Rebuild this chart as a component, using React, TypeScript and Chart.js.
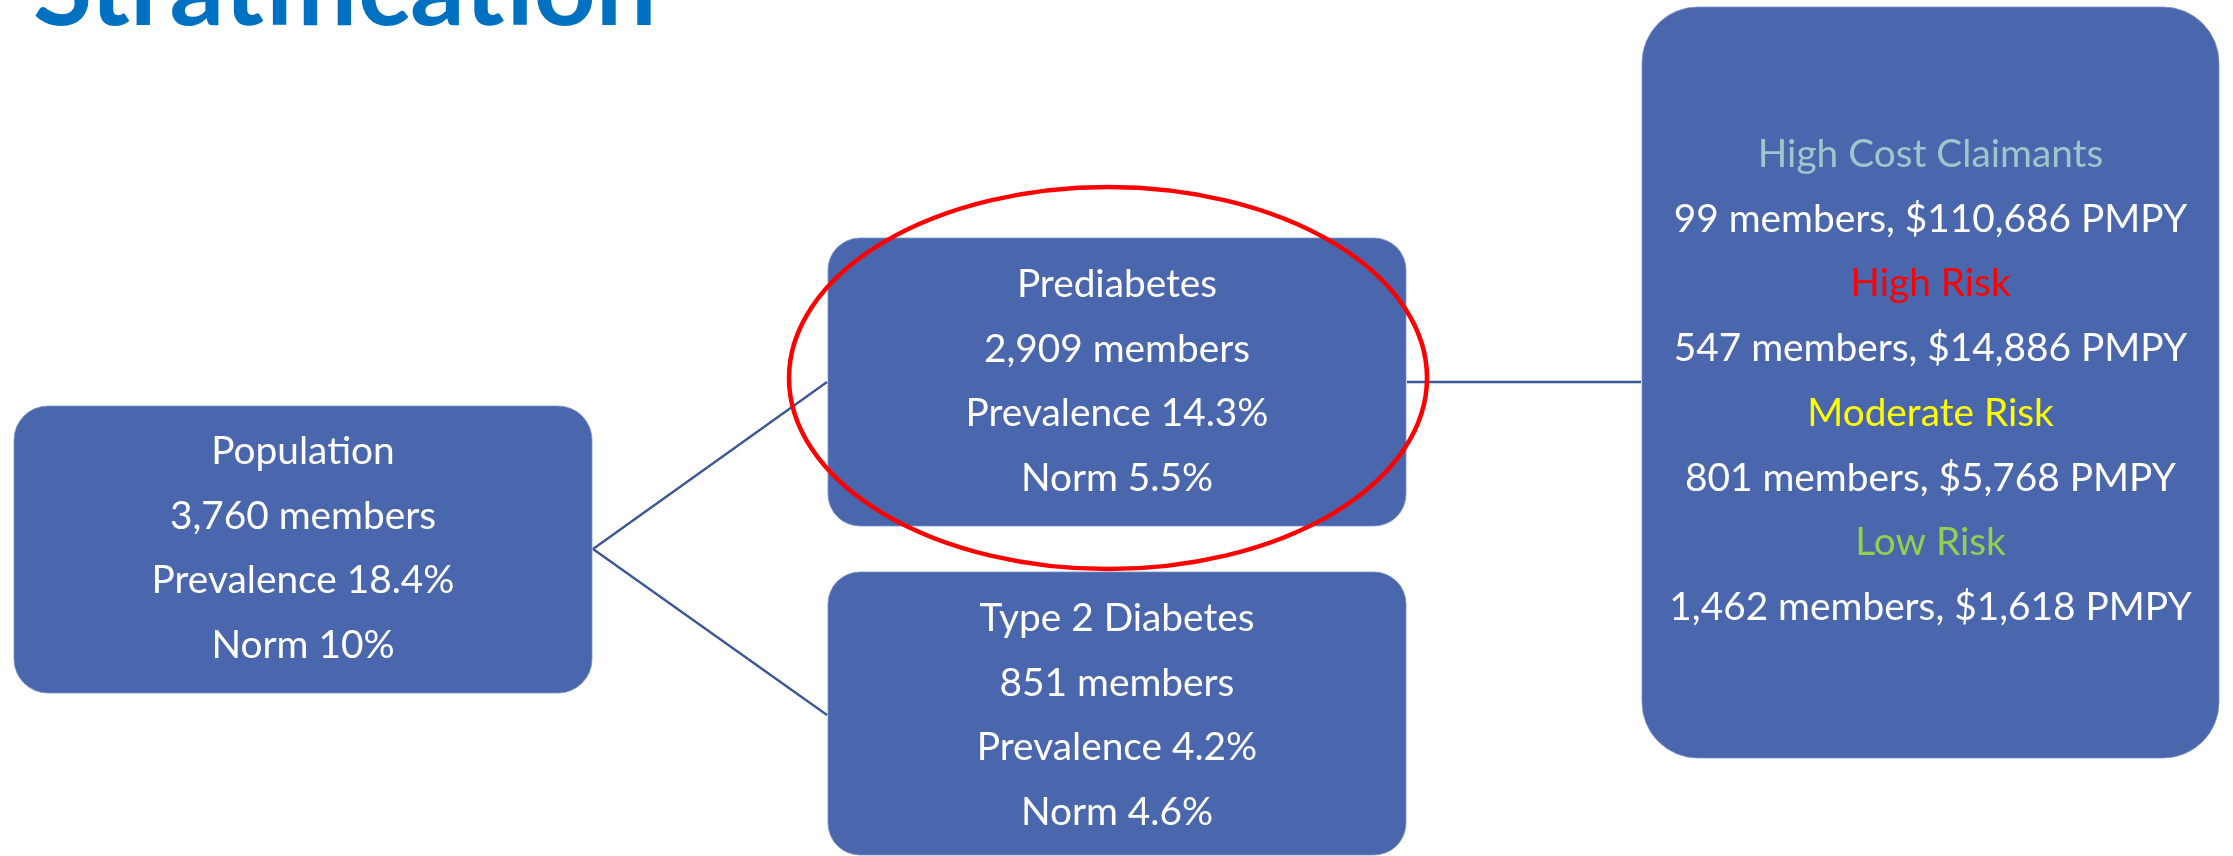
import { useEffect, useRef } from "react";
import { Chart, registerables } from "chart.js";

Chart.register(...registerables);

// ---------- data ----------
const titleText = "Stratification";

const populationLabel = "Population";
const populationMembers = 3760;
const populationPrevalence = 18.4;
const populationNorm = 10;

const groupLabels = ["Prediabetes", "Type 2 Diabetes"];
const groupMembers = [2909, 851];
const groupPrevalence = [14.3, 4.2];
const groupNorm = [5.5, 4.6];

const riskLabels = ["High Cost Claimants", "High Risk", "Moderate Risk", "Low Risk"];
const riskMembers = [99, 547, 801, 1462];
const riskPMPY = [110686, 14886, 5768, 1618];

// ---------- styles / layout (scale units) ----------
const W = 2233;
const H = 856;
const riskColors = ["#9CC7CB", "#FF0000", "#FFFF00", "#92D050"];
const boxFill = "#4A66AC";
const connectorColor = "#3B5597";
const titleColor = "#0070C0";
const FONT = "Lato, 'Open Sans', sans-serif";
const textSize = 38.8;
const lineStep = 64.7;

const fmt = (n: number) => n.toLocaleString("en-US");

type Line = { text: string; color: string };
type Box = { x0: number; x1: number; y0: number; y1: number; r: number; firstBaseline: number; lines: Line[] };

const white = "#FFFFFF";

const boxes: Box[] = [
  {
    x0: 14, x1: 592, y0: 406, y1: 693, r: 34, firstBaseline: 464,
    lines: [
      { text: populationLabel, color: white },
      { text: `${fmt(populationMembers)} members`, color: white },
      { text: `Prevalence ${populationPrevalence}%`, color: white },
      { text: `Norm ${populationNorm}%`, color: white },
    ],
  },
  ...groupLabels.map((label, i) => ({
    x0: 828, x1: 1406, y0: i === 0 ? 238 : 572, y1: i === 0 ? 526 : 855, r: 32,
    firstBaseline: i === 0 ? 297 : 631,
    lines: [
      { text: label, color: white },
      { text: `${fmt(groupMembers[i])} members`, color: white },
      { text: `Prevalence ${groupPrevalence[i]}%`, color: white },
      { text: `Norm ${groupNorm[i]}%`, color: white },
    ],
  })),
  {
    x0: 1642, x1: 2219, y0: 7, y1: 758, r: 56, firstBaseline: 167,
    lines: riskLabels.flatMap((label, i) => [
      { text: label, color: riskColors[i] },
      { text: `${fmt(riskMembers[i])} members, $${fmt(riskPMPY[i])} PMPY`, color: white },
    ]),
  },
];

const connectors = [
  [{ x: 593, y: 549 }, { x: 827, y: 382 }],
  [{ x: 593, y: 549 }, { x: 827, y: 715 }],
  [{ x: 1407, y: 382 }, { x: 1641, y: 382 }],
];

const ellipse = { cx: 1108, cy: 378, rx: 319, ry: 191 };
const titlePos = { x: 33, y: 25 };

const diagramPlugin = {
  id: "diagram",
  beforeDatasetsDraw(chart: any) {
    const { ctx, scales } = chart;
    const sx = (v: number) => scales.x.getPixelForValue(v);
    const sy = (v: number) => scales.y.getPixelForValue(v);
    ctx.save();
    for (const b of boxes) {
      const x = sx(b.x0), y = sy(b.y0);
      const w = sx(b.x1) - x, h = sy(b.y1) - y;
      ctx.beginPath();
      ctx.roundRect(x, y, w, h, b.r);
      ctx.fillStyle = boxFill;
      ctx.fill();
      ctx.lineWidth = 1;
      ctx.strokeStyle = "rgba(120,145,200,0.8)";
      ctx.stroke();
    }
    ctx.restore();
  },
  afterDatasetsDraw(chart: any) {
    const { ctx, scales } = chart;
    const sx = (v: number) => scales.x.getPixelForValue(v);
    const sy = (v: number) => scales.y.getPixelForValue(v);
    ctx.save();
    ctx.textAlign = "center";
    ctx.textBaseline = "alphabetic";
    ctx.font = `${textSize}px ${FONT}`;
    for (const b of boxes) {
      const cx = sx((b.x0 + b.x1) / 2);
      b.lines.forEach((ln, i) => {
        ctx.fillStyle = ln.color;
        ctx.fillText(ln.text, cx, sy(b.firstBaseline + i * lineStep));
      });
    }
    // red ellipse
    ctx.beginPath();
    const ecx = sx(ellipse.cx), ecy = sy(ellipse.cy);
    const erx = sx(ellipse.cx + ellipse.rx) - ecx;
    const ery = sy(ellipse.cy + ellipse.ry) - ecy;
    ctx.ellipse(ecx, ecy, Math.abs(erx), Math.abs(ery), 0, 0, Math.PI * 2);
    ctx.strokeStyle = "#FF0000";
    ctx.lineWidth = 4.5;
    ctx.stroke();
    // title
    ctx.textAlign = "left";
    ctx.font = `bold 108px ${FONT}`;
    ctx.fillStyle = titleColor;
    ctx.fillText(titleText, sx(titlePos.x), sy(titlePos.y));
    ctx.restore();
  },
};

export default function App() {
  const ref = useRef<HTMLCanvasElement | null>(null);
  useEffect(() => {
    let chart: Chart | null = null;
    let cancelled = false;
    const build = () => {
      if (cancelled || !ref.current) return;
      chart = new Chart(ref.current, {
        type: "scatter",
        data: {
          datasets: connectors.map((pts) => ({
            data: pts,
            showLine: true,
            borderColor: connectorColor,
            borderWidth: 2.3,
            pointRadius: 0,
            fill: false,
          })),
        },
        options: {
          animation: false,
          responsive: false,
          devicePixelRatio: 1,
          layout: { padding: 0 },
          plugins: { legend: { display: false }, tooltip: { enabled: false }, title: { display: false } },
          scales: {
            x: { type: "linear", min: 0, max: W, display: false },
            y: { type: "linear", min: 0, max: H, reverse: true, display: false },
          },
        },
        plugins: [diagramPlugin],
      } as any);
    };
    const fonts: any = (document as any).fonts;
    if (fonts && fonts.load) {
      Promise.all([fonts.load(`${textSize}px Lato`), fonts.load(`bold 108px Lato`)]).then(build, build);
    } else build();
    return () => {
      cancelled = true;
      if (chart) chart.destroy();
    };
  }, []);
  return (
    <div style={{ position: "fixed", left: 0, top: 0, width: W, height: H, background: "#FFFFFF" }}>
      <canvas ref={ref} width={W} height={H} style={{ display: "block", width: W, height: H }} />
    </div>
  );
}
